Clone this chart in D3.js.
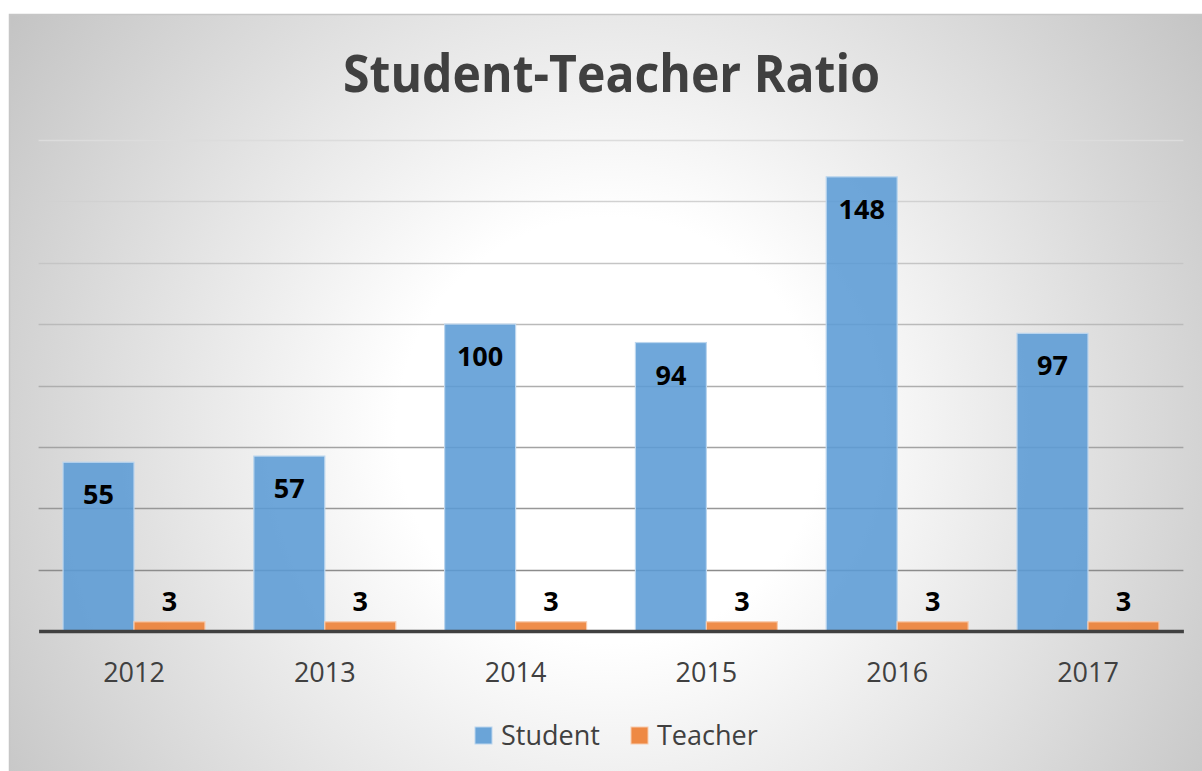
<!DOCTYPE html>
<html>
<head>
<meta charset="utf-8">
<script src="https://cdn.jsdelivr.net/npm/d3@7"></script>
<style>
  html, body { margin: 0; padding: 0; background: #fff; }
  svg { display: block; }
</style>
</head>
<body>
<script>
const years = ["2012", "2013", "2014", "2015", "2016", "2017"];
const studentValues = [55, 57, 100, 94, 148, 97];
const teacherValues = [3, 3, 3, 3, 3, 3];
const seriesNames = ["Student", "Teacher"];
const yTicks = [0, 20, 40, 60, 80, 100, 120, 140, 160];

const width = 1202;
const height = 771;
const plotLeft = 38.6;
const plotRight = 1183.4;
const plotTop = 140;
const plotBottom = 631;

const colors = { Student: "#5b9bd5", Teacher: "#ed7d31" };
const borders = { Student: "#bcd6ee", Teacher: "#f8cbad" };

const svg = d3.select("body").append("svg")
    .attr("width", width)
    .attr("height", height);

// background gradient
const defs = svg.append("defs");
const grad = defs.append("radialGradient")
    .attr("id", "bg")
    .attr("gradientUnits", "userSpaceOnUse")
    .attr("cx", 610).attr("cy", 430).attr("r", 760);
grad.append("stop").attr("offset", "0").attr("stop-color", "#ffffff");
grad.append("stop").attr("offset", "0.28").attr("stop-color", "#ffffff");
grad.append("stop").attr("offset", "1").attr("stop-color", "#c0c0c0");

svg.append("rect")
    .attr("x", 9.5).attr("y", 14.5)
    .attr("width", width).attr("height", height)
    .attr("fill", "url(#bg)")
    .attr("stroke", "#c6c6c6")
    .attr("stroke-width", 1.5);

// scales
const x0 = d3.scaleBand()
    .domain(years)
    .range([plotLeft, plotRight])
    .paddingInner(0.256)
    .paddingOuter(0.128);

const x1 = d3.scaleBand()
    .domain(seriesNames)
    .range([0, x0.bandwidth()]);

const y = d3.scaleLinear()
    .domain([0, 160])
    .range([plotBottom, plotTop]);

// gridlines, lighter at the top
const gridColor = d3.scaleLinear()
    .domain([160, 20])
    .range(["#dcdcdc", "#8c8c8c"]);

svg.append("g")
    .selectAll("line")
    .data(yTicks.filter(d => d > 0))
    .join("line")
    .attr("x1", plotLeft)
    .attr("x2", plotRight)
    .attr("y1", d => Math.round(y(d)) + 0.5)
    .attr("y2", d => Math.round(y(d)) + 0.5)
    .attr("stroke", d => gridColor(d))
    .attr("stroke-width", 1.3);

// bars
const rows = years.map((yr, i) => ({ year: yr, Student: studentValues[i], Teacher: teacherValues[i] }));

const groups = svg.append("g")
    .selectAll("g")
    .data(rows)
    .join("g")
    .attr("transform", d => "translate(" + x0(d.year) + ",0)");

groups.selectAll("rect")
    .data(d => seriesNames.map(k => ({ key: k, value: d[k] })))
    .join("rect")
    .attr("x", d => x1(d.key))
    .attr("y", d => y(d.value))
    .attr("width", x1.bandwidth())
    .attr("height", d => y(0) - y(d.value))
    .attr("fill", d => colors[d.key])
    .attr("fill-opacity", 0.88)
    .attr("stroke", d => borders[d.key])
    .attr("stroke-width", 1.2);

// value labels
groups.selectAll("text")
    .data(d => seriesNames.map(k => ({ key: k, value: d[k] })))
    .join("text")
    .attr("x", d => x1(d.key) + x1.bandwidth() / 2)
    .attr("y", d => d.key === "Student" ? y(d.value) + 42 : y(d.value) - 11)
    .attr("text-anchor", "middle")
    .attr("font-family", "'Open Sans', sans-serif")
    .attr("font-weight", "bold")
    .attr("font-size", 27)
    .attr("fill", "#000")
    .text(d => d.value);

// baseline axis
const xAxis = svg.append("g")
    .attr("transform", "translate(0," + plotBottom + ")")
    .call(d3.axisBottom(x0).tickSize(0).tickPadding(0));
xAxis.select(".domain")
    .attr("stroke", "#404040")
    .attr("stroke-width", 3.5);
xAxis.selectAll(".tick text")
    .attr("y", 51)
    .attr("dy", 0)
    .attr("font-family", "'Open Sans', sans-serif")
    .attr("font-size", 27)
    .attr("fill", "#404040");

// title
svg.append("text")
    .attr("x", 611.5)
    .attr("y", 92)
    .attr("text-anchor", "middle")
    .attr("font-family", "'Open Sans', sans-serif")
    .attr("font-weight", "bold")
    .attr("font-size", 52)
    .attr("fill", "#404040")
    .attr("textLength", 537)
    .attr("lengthAdjust", "spacingAndGlyphs")
    .text("Student-Teacher Ratio");

// legend
const legendX = [475, 631];
const legend = svg.append("g")
    .selectAll("g")
    .data(seriesNames)
    .join("g")
    .attr("transform", (d, i) => "translate(" + legendX[i] + ",727)");
legend.append("rect")
    .attr("width", 17)
    .attr("height", 17)
    .attr("fill", d => colors[d])
    .attr("fill-opacity", 0.9)
    .attr("stroke", d => borders[d])
    .attr("stroke-width", 1);
legend.append("text")
    .attr("x", 26)
    .attr("y", 18)
    .attr("font-family", "'Open Sans', sans-serif")
    .attr("font-size", 27)
    .attr("fill", "#404040")
    .text(d => d);
</script>
</body>
</html>
